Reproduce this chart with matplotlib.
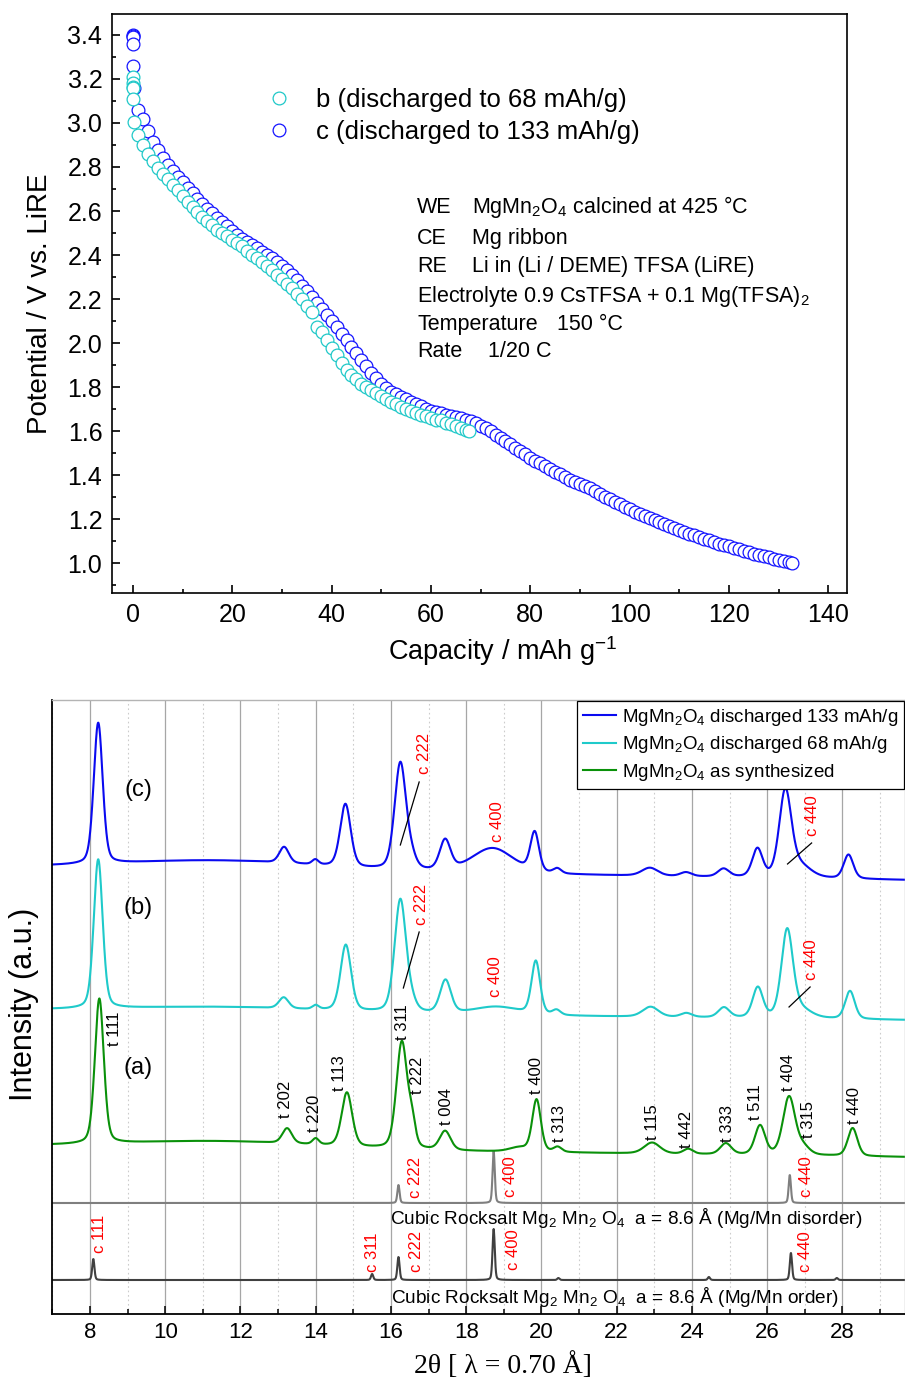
import numpy as np
import matplotlib
matplotlib.use("Agg")
import matplotlib.pyplot as plt
from matplotlib.ticker import MultipleLocator

plt.rcParams['font.family'] = ['Liberation Sans', 'DejaVu Sans']
plt.rcParams['mathtext.fontset'] = 'custom'
plt.rcParams['mathtext.rm'] = 'Liberation Sans'
plt.rcParams['mathtext.it'] = 'Liberation Sans:italic'
plt.rcParams['mathtext.bf'] = 'Liberation Sans:bold'

# ---------------- discharge curves (capacity mAh/g, potential V vs. LiRE)
cap_c = [0, 0, 0, 0.05, 0.1, 0.15] + list(range(1, 133)) + [132.6]
pot_c = [3.40, 3.395, 3.39, 3.36, 3.26, 3.16,
         3.06, 3.02, 2.965, 2.915, 2.875, 2.84, 2.81, 2.78, 2.755, 2.73,
         2.705, 2.68, 2.655, 2.63, 2.61, 2.59, 2.57, 2.55, 2.53, 2.51,
         2.492, 2.475, 2.46, 2.445, 2.43, 2.415, 2.40, 2.385, 2.368, 2.35,
         2.33, 2.31, 2.285, 2.26, 2.235, 2.21, 2.183, 2.155, 2.128, 2.10,
         2.072, 2.043, 2.013, 1.983, 1.953, 1.923, 1.894, 1.866, 1.84, 1.815,
         1.797, 1.78, 1.767, 1.755, 1.745, 1.735, 1.724, 1.714, 1.703, 1.693,
         1.687, 1.681, 1.675, 1.67, 1.665, 1.658, 1.652, 1.645, 1.636, 1.625,
         1.613, 1.60, 1.585, 1.57, 1.555, 1.54, 1.525, 1.51, 1.495, 1.48,
         1.467, 1.455, 1.442, 1.43, 1.417, 1.405, 1.392, 1.38, 1.37, 1.36,
         1.35, 1.34, 1.327, 1.315, 1.302, 1.29, 1.279, 1.268, 1.256, 1.245,
         1.235, 1.225, 1.215, 1.205, 1.196, 1.187, 1.178, 1.17, 1.161, 1.152,
         1.143, 1.135, 1.127, 1.12, 1.112, 1.105, 1.097, 1.09, 1.083, 1.077,
         1.07, 1.063, 1.056, 1.05, 1.044, 1.038, 1.032, 1.027, 1.022, 1.017,
         1.012, 1.007,
         1.0]

cap_b = [0, 0, 0, 0, 0.05, 0.2] + list(range(1, 68)) + [67.6]
pot_b = [3.21, 3.18, 3.165, 3.16, 3.11, 3.005,
         2.945, 2.90, 2.86, 2.825, 2.795, 2.77, 2.745, 2.72, 2.695, 2.668,
         2.643, 2.618, 2.595, 2.575, 2.555, 2.535, 2.515, 2.50, 2.485, 2.47,
         2.455, 2.44, 2.42, 2.40, 2.385, 2.37, 2.35, 2.33, 2.31, 2.29,
         2.27, 2.25, 2.225, 2.20, 2.17, 2.14, 2.075, 2.05, 2.015, 1.98,
         1.945, 1.91, 1.878, 1.855, 1.835, 1.815, 1.80, 1.785, 1.772, 1.76,
         1.747, 1.735, 1.723, 1.712, 1.70, 1.69, 1.682, 1.675, 1.668, 1.66,
         1.653, 1.652, 1.638, 1.632, 1.624, 1.615, 1.607,
         1.60]

label_b = "b (discharged to 68 mAh/g)"
label_c = "c (discharged to 133 mAh/g)"

cell_keys = ["WE", "CE", "RE"]
cell_vals = ["MgMn$_2$O$_4$ calcined at 425 °C", "Mg ribbon",
             "Li in (Li / DEME) TFSA (LiRE)"]
electrolyte = "Electrolyte 0.9 CsTFSA + 0.1 Mg(TFSA)$_2$"
cond_keys = ["Temperature", "Rate"]
cond_vals = ["150 °C", "1/20 C"]

# ---------------- XRD patterns, 2theta (lambda = 0.70 A)
# peaks: position, height above baseline, FWHM
c_pos = [8.22, 13.16, 13.99, 14.79, 16.25, 16.55, 17.44, 18.70, 19.82, 20.42,
         22.88, 23.84, 24.84, 25.74, 26.48, 26.85, 28.16]
c_h = [141, 16, 5, 63, 107, 10, 30, 25, 39, 5, 8, 4, 8, 28, 84, 12, 24]
c_w = [0.28, 0.3, 0.2, 0.33, 0.36, 0.3, 0.34, 1.3, 0.27, 0.25,
       0.5, 0.35, 0.35, 0.32, 0.38, 0.7, 0.3]
c_base = [447, 434]
c_hump = [11.5, 9, 6]

b_pos = [8.22, 13.15, 14.0, 14.8, 16.25, 16.55, 17.45, 18.8, 19.85, 20.4,
         22.9, 23.85, 24.85, 25.75, 26.53, 26.85, 28.2]
b_h = [149, 11, 4, 66, 113, 8, 33, 8, 53, 5, 10, 4, 10, 30, 85, 9, 28]
b_w = [0.28, 0.3, 0.2, 0.33, 0.36, 0.3, 0.34, 1.4, 0.27, 0.25,
       0.5, 0.35, 0.35, 0.32, 0.36, 0.7, 0.3]
b_base = [304, 294]
b_hump = [11.5, 5, 6]

a_pos = [8.25, 13.24, 14.0, 14.83, 16.29, 16.56, 17.44, 19.4, 19.87, 20.43,
         22.94, 23.9, 24.9, 25.81, 26.58, 26.95, 28.27]
a_h = [145, 15, 6, 54, 107, 22, 19, 4, 52, 5, 11, 5, 11, 29, 58, 8, 28]
a_w = [0.28, 0.3, 0.2, 0.33, 0.34, 0.22, 0.34, 0.6, 0.27, 0.25,
       0.5, 0.3, 0.35, 0.32, 0.38, 0.4, 0.3]
a_base = [168, 157]
a_hump = [11.5, 7, 6]

dis_pos = [16.2, 18.73, 26.6]
dis_h = [18, 52, 28]
dis_base = 111
ord_pos = [8.09, 15.5, 16.2, 18.73, 20.45, 24.45, 26.63, 27.85]
ord_h = [21, 6, 23, 51, 2, 3, 27, 2]
ord_base = 34

# reflection labels: text, 2theta, height
c_marks = [("c 222", 16.885, 561), ("c 400", 18.82, 492), ("c 440", 27.2, 498)]
b_marks = [("c 222", 16.81, 410), ("c 400", 18.78, 337), ("c 440", 27.19, 354)]
t_marks = [("t 111", 8.664, 285), ("t 202", 13.195, 215), ("t 220", 13.973, 201),
           ("t 113", 14.621, 241), ("t 311", 16.301, 292), ("t 222", 16.699, 239),
           ("t 004", 17.469, 207), ("t 400", 19.877, 238), ("t 313", 20.477, 190),
           ("t 115", 22.957, 191.5), ("t 442", 23.867, 185), ("t 333", 24.948, 190.5),
           ("t 511", 25.699, 211.5), ("t 404", 26.556, 241.5), ("t 315", 27.087, 194),
           ("t 440", 28.327, 208.5)]
dis_marks = [("c 222", 16.646, 137), ("c 400", 19.176, 137), ("c 440", 27.053, 137)]
ord_marks = [("c 111", 8.265, 80), ("c 311", 15.505, 61.5), ("c 222", 16.673, 63),
             ("c 400", 19.267, 64), ("c 440", 27.026, 62)]
# leader lines (2theta pairs, height pairs)
leaders = [([16.25, 16.75], [469, 532]), ([26.54, 27.18], [450, 471]),
           ([16.33, 16.75], [326, 382]), ([26.58, 27.14], [307, 327])]


def pattern(x, pos, h, w, base=None, hump=None, eta=0.3):
    y = np.zeros_like(x)
    if base is not None:
        y += base[0] + (base[1] - base[0]) * (x - x[0]) / (x[-1] - x[0])
    if hump is not None:
        y += hump[1] * np.exp(-4 * np.log(2) * ((x - hump[0]) / hump[2]) ** 2)
    for p, hh, ww in zip(pos, h, w):
        u = (x - p) / ww
        y += hh * ((1 - eta) * np.exp(-4 * np.log(2) * u ** 2) + eta / (1 + 4 * u ** 2))
    return y


fig = plt.figure(figsize=(9.05, 13.82), dpi=100)

# ================= top: discharge curves
ax1 = fig.add_axes([0.1238, 0.5707, 0.8124, 0.4192])
hc, = ax1.plot(cap_c, pot_c, ls='none', marker='o', ms=9.2, mfc='white',
               mec='#1414ff', mew=0.9)
hb, = ax1.plot(cap_b, pot_b, ls='none', marker='o', ms=9.2, mfc='white',
               mec='#1fc8c8', mew=0.9)
ax1.set_xlim(-4.2, 143.8)
ax1.set_ylim(0.864, 3.495)
ax1.xaxis.set_major_locator(MultipleLocator(20))
ax1.xaxis.set_minor_locator(MultipleLocator(10))
ax1.yaxis.set_major_locator(MultipleLocator(0.2))
ax1.yaxis.set_minor_locator(MultipleLocator(0.1))
ax1.yaxis.set_major_formatter(matplotlib.ticker.FormatStrFormatter('%.1f'))
ax1.tick_params(which='both', direction='in', top=False, right=False,
                labelsize=18, width=1.2, pad=7)
ax1.tick_params(which='major', length=5.5)
ax1.tick_params(which='minor', length=3)
for s in ax1.spines.values():
    s.set_linewidth(1.2)
ax1.set_xlabel("Capacity / mAh g$^{-1}$", fontsize=19.5)
ax1.xaxis.set_label_coords(0.532, -0.07)
ax1.set_ylabel("Potential / V vs. LiRE", fontsize=20)
ax1.yaxis.set_label_coords(-0.08, 0.5)

ax1.legend([hb, hc], [label_b, label_c], loc='center left',
           bbox_to_anchor=(0.2097, 0.824), frameon=False, fontsize=18.5,
           handlelength=1.0, handletextpad=0.94, borderpad=0, borderaxespad=0,
           labelspacing=0.3, numpoints=1)

rows = [0.656, 0.603, 0.555]
for k, v, yy in zip(cell_keys, cell_vals, rows):
    ax1.text(0.4148, yy, k, transform=ax1.transAxes, fontsize=15.5, va='baseline')
    ax1.text(0.4896, yy, v, transform=ax1.transAxes, fontsize=15.5, va='baseline')
ax1.text(0.4148, 0.5034, electrolyte, transform=ax1.transAxes, fontsize=15.5,
         va='baseline')
for k, v, xx, yy in zip(cond_keys, cond_vals, [0.605, 0.5116], [0.4545, 0.4084]):
    ax1.text(0.4148, yy, k, transform=ax1.transAxes, fontsize=15.5, va='baseline')
    ax1.text(xx, yy, v, transform=ax1.transAxes, fontsize=15.5, va='baseline')

# ================= bottom: XRD
ax2 = fig.add_axes([0.0578, 0.0492, 0.9417, 0.4443])
tt = np.linspace(7, 29.65, 4000)

ax2.plot(tt, pattern(tt, dis_pos, dis_h, [0.07] * len(dis_pos), [dis_base, dis_base]),
         color='#7f7f7f', lw=1.5)
ax2.plot(tt, pattern(tt, ord_pos, ord_h, [0.07] * len(ord_pos), [ord_base, ord_base]),
         color='#404040', lw=1.5)
la, = ax2.plot(tt, pattern(tt, a_pos, a_h, a_w, a_base, a_hump), color='#0a910a', lw=1.5,
               label="MgMn$_2$O$_4$ as synthesized")
lb, = ax2.plot(tt, pattern(tt, b_pos, b_h, b_w, b_base, b_hump), color='#1fcaca', lw=1.5,
               label="MgMn$_2$O$_4$ discharged 68 mAh/g")
lc, = ax2.plot(tt, pattern(tt, c_pos, c_h, c_w, c_base, c_hump), color='#0a0af0', lw=1.5,
               label="MgMn$_2$O$_4$ discharged 133 mAh/g")

for xs, ys in leaders:
    ax2.plot(xs, ys, color='black', lw=0.9)

for s, x, y in c_marks + b_marks + dis_marks + ord_marks:
    ax2.text(x, y, s, rotation=90, ha='center', va='center', fontsize=12, color='red')
for s, x, y in t_marks:
    ax2.text(x, y, s, rotation=90, ha='center', va='center', fontsize=12, color='black')

for s, y in [("(c)", 524), ("(b)", 405.7), ("(a)", 245.7)]:
    ax2.text(9.285, y, s, ha='center', va='center', fontsize=17)

ax2.text(15.97, 96, "Cubic Rocksalt Mg$_2$ Mn$_2$ O$_4$  a = 8.6 Å (Mg/Mn disorder)",
         fontsize=13.7, va='center', ha='left')
ax2.text(15.99, 17.3, "Cubic Rocksalt Mg$_2$ Mn$_2$ O$_4$  a = 8.6 Å (Mg/Mn order)",
         fontsize=13.7, va='center', ha='left')

ax2.set_xlim(7, 29.65)
ax2.set_ylim(0, 614)
ax2.set_xticks(np.arange(8, 30, 2))
ax2.set_xticks(np.arange(7, 30, 2), minor=True)
ax2.set_yticks([])
ax2.grid(which='major', axis='x', color='#a6a6a6', lw=0.9, ls='-')
ax2.grid(which='minor', axis='x', color='#cccccc', lw=0.8, ls=(0, (1.5, 2.5)))
ax2.set_axisbelow(True)
ax2.tick_params(which='both', direction='in', top=False, right=False,
                labelsize=16, width=1.1, pad=6)
ax2.tick_params(which='major', length=6)
ax2.tick_params(which='minor', length=3.5)
ax2.spines['left'].set_linewidth(1.3)
ax2.spines['bottom'].set_linewidth(1.3)
for side in ['top', 'right']:
    ax2.spines[side].set_color('#b4b4b4')
    ax2.spines[side].set_linewidth(1.0)

ax2.set_xlabel("2θ [ λ = 0.70 Å]", fontfamily='Liberation Serif', fontsize=20)
ax2.xaxis.set_label_coords(0.529, -0.062)
ax2.set_ylabel("Intensity (a.u.)", fontsize=22)
ax2.yaxis.set_label_coords(-0.0162, 0.505)

leg2 = ax2.legend(handles=[lc, lb, la], loc='upper right', bbox_to_anchor=(1.0, 1.0),
                  fontsize=13.5, frameon=True, fancybox=False, edgecolor='black',
                  framealpha=1, borderaxespad=0.05, borderpad=0.3, handlelength=1.76,
                  handletextpad=0.32, labelspacing=0.36)
leg2.get_frame().set_linewidth(0.9)

fig.savefig("out.png", dpi=100)
